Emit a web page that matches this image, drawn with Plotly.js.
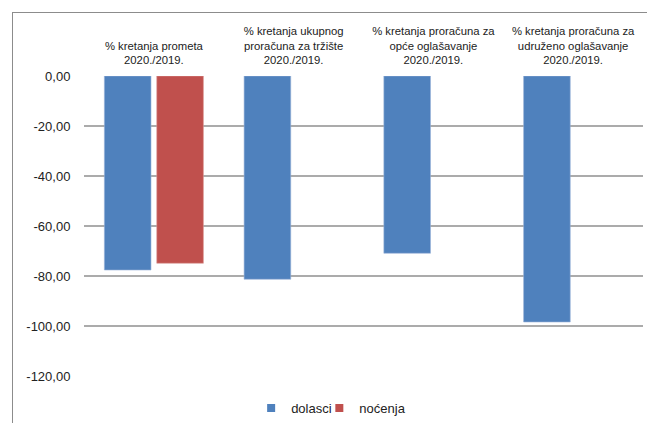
<!DOCTYPE html>
<html>
<head>
<meta charset="utf-8">
<script src="https://cdn.plot.ly/plotly-3.0.1.min.js"></script>
<style>
html,body{margin:0;padding:0;background:#fff;}
#wrap{position:relative;width:647px;height:423px;}
#chart{width:647px;height:423px;}
#frame{position:absolute;left:12px;top:12px;width:635px;height:411px;border-left:1px solid #8c8c8c;border-top:1px solid #8c8c8c;pointer-events:none;box-sizing:border-box;}
</style>
</head>
<body>
<div id="wrap"><div id="chart"></div><div id="frame"></div></div>
<script>
const categories = [
  "% kretanja prometa<br>2020./2019.",
  "% kretanja ukupnog<br>proračuna za tržište<br>2020./2019.",
  "% kretanja proračuna za<br>opće oglašavanje<br>2020./2019.",
  "% kretanja proračuna za<br>udruženo oglašavanje<br>2020./2019."
];
const seriesNames = ["dolasci", "noćenja"];
const seriesColors = ["#4f81bd", "#c0504d"];
const dolasci = [-77.6, -81.3, -70.9, -98.4];
const nocenja = [-74.9, null, null, null];
const yTickVals = [0, -20, -40, -60, -80, -100, -120];
const yTickText = ["0,00", "-20,00", "-40,00", "-60,00", "-80,00", "-100,00", "-120,00"];

const values = [dolasci, nocenja];
const legendIds = ['legend', 'legend2'];
const traces = [];
values.forEach((v, i) => {
  traces.push({type:'bar', name:seriesNames[i], x:categories, y:v, showlegend:false,
    marker:{color:seriesColors[i], line:{color: i===0 ? '#9ab4d8' : '#dc9a98', width:0.6}}});
});
// legend entries (small square keys like the original)
values.forEach((v, i) => {
  traces.push({type:'scatter', mode:'markers', name:seriesNames[i], x:[null], y:[null],
    legend:legendIds[i],
    marker:{symbol:'square', size:8, color:seriesColors[i]}, showlegend:true, hoverinfo:'skip'});
});

const legendStyle = {orientation:'h', xanchor:'left', y:-0.107, yanchor:'middle',
  font:{size:13, color:'#222'}, itemwidth:30, bgcolor:'rgba(0,0,0,0)'};

const layout = {
  width:647, height:423,
  margin:{l:84, r:4, t:76, b:47, autoexpand:false},
  paper_bgcolor:'#fff', plot_bgcolor:'#fff',
  font:{family:'"Liberation Sans", Arial, sans-serif', color:'#222'},
  barmode:'group', bargap:0.25, bargroupgap:0.11,
  showlegend:true,
  legend:Object.assign({}, legendStyle, {x:0.299}),
  legend2:Object.assign({}, legendStyle, {x:0.421}),
  xaxis:{side:'top', type:'category', showgrid:false, zeroline:false, showline:false,
         ticks:'outside', ticklen:6, tickcolor:'rgba(0,0,0,0)',
         tickfont:{size:11.3, color:'#222'}, fixedrange:true},
  yaxis:{range:[-120,0], tickvals:yTickVals, ticktext:yTickText,
         showgrid:true, gridcolor:'#ababab', gridwidth:2, zeroline:false, showline:false,
         ticks:'outside', ticklen:10, tickcolor:'rgba(0,0,0,0)',
         tickfont:{size:13, color:'#222'}, fixedrange:true}
};

Plotly.newPlot('chart', traces, layout, {displayModeBar:false, staticPlot:true});
</script>
</body>
</html>
